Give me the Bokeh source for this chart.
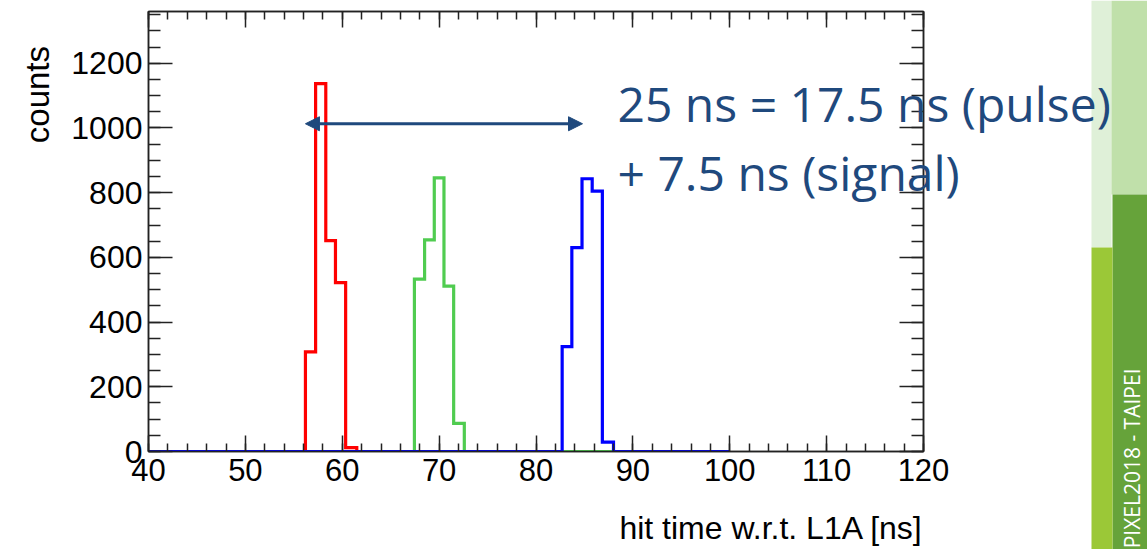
import math
from bokeh.plotting import figure
from bokeh.models import (LinearAxis, SingleIntervalTicker, Arrow,
                          NormalHead, Range1d, GridBox)
from bokeh.core.properties import value
from bokeh.embed import file_html
from bokeh.resources import INLINE

# ---------------- data ----------------
hist_range = (0, 100)          # histogram domain [ns]
x_axis_range = (40, 120)
y_axis_range = (0, 1360)

red_edges = [56.2, 57.25, 58.3, 59.3, 60.35, 61.5]
red_counts = [308, 1137, 652, 522, 12]

green_edges = [67.45, 68.5, 69.5, 70.5, 71.5, 72.6]
green_counts = [533, 654, 846, 511, 87]

blue_edges = [82.7, 83.7, 84.75, 85.8, 86.85, 88.0]
blue_counts = [324, 630, 843, 805, 29]

arrow_x = [56.2, 84.8]
arrow_y = 1013

note_lines = ["25 ns = 17.5 ns (pulse)", "+ 7.5 ns (signal)"]
x_title = "hit time w.r.t. L1A [ns]"
y_title = "counts"
banner = "PIXEL2018 - TAIPEI"

# ---------------- helpers ----------------
def step_path(edges, counts, lo, hi):
    xs = [lo, edges[0]]
    ys = [0, 0]
    for i, c in enumerate(counts):
        xs += [edges[i], edges[i + 1]]
        ys += [c, c]
    xs += [edges[-1], hi]
    ys += [0, 0]
    return xs, ys

W, H = 1147, 549
p = figure(width=W, height=H, output_backend="svg", toolbar_location=None,
           x_range=Range1d(*x_axis_range), y_range=Range1d(*y_axis_range),
           min_border_left=148, min_border_right=224, min_border_top=11,
           min_border_bottom=98, background_fill_color="white",
           border_fill_color="white", outline_line_color="#222222",
           outline_line_width=1.5)
p.grid.visible = False
p.frame_align = False

AX = "#222222"
TICK_FONT = "Liberation Sans"

p.xaxis[0].ticker = SingleIntervalTicker(interval=10, num_minor_ticks=5)
p.yaxis[0].ticker = SingleIntervalTicker(interval=200, num_minor_ticks=4)

def style(ax, major, minor, labels=True, size="31px"):
    ax.axis_line_color = AX
    ax.axis_line_width = 1.5
    ax.major_tick_line_color = AX
    ax.minor_tick_line_color = AX
    ax.major_tick_line_width = 1.5
    ax.minor_tick_line_width = 1.5
    ax.major_tick_in = major
    ax.major_tick_out = 0
    ax.minor_tick_in = minor
    ax.minor_tick_out = 0
    if labels:
        ax.major_label_text_font = TICK_FONT
        ax.major_label_text_font_size = size
        ax.major_label_text_color = "black"
    else:
        ax.major_label_text_font_size = "1px"
        ax.major_label_text_color = None
        ax.major_label_standoff = 0

style(p.xaxis[0], 16, 8)
p.xaxis[0].major_label_standoff = 7
style(p.yaxis[0], 24, 12, size="32px")
p.yaxis[0].major_label_standoff = 6

top = LinearAxis(ticker=SingleIntervalTicker(interval=10, num_minor_ticks=5))
style(top, 16, 8, labels=False)
p.add_layout(top, "above")
right = LinearAxis(ticker=SingleIntervalTicker(interval=200, num_minor_ticks=4))
style(right, 24, 12, labels=False)
p.add_layout(right, "right")

# histograms
for edges, counts, col in [(red_edges, red_counts, "#FF0000"),
                           (green_edges, green_counts, "#50CC50"),
                           (blue_edges, blue_counts, "#0000FF")]:
    xs, ys = step_path(edges, counts, *hist_range)
    p.line(xs, ys, line_color=col, line_width=3.2, line_join="miter")

# arrow
NAVY = "#1F497D"
p.add_layout(Arrow(start=NormalHead(size=14, fill_color=NAVY, line_color=NAVY),
                   end=NormalHead(size=14, fill_color=NAVY, line_color=NAVY),
                   x_start=arrow_x[0], y_start=arrow_y,
                   x_end=arrow_x[1], y_end=arrow_y,
                   line_color=NAVY, line_width=3))

# ---------------- overlay page layer (pixel space, y downward) ----------------
ov = figure(width=W, height=H, output_backend="svg", toolbar_location=None,
            x_range=Range1d(0, W), y_range=Range1d(H, 0),
            x_axis_type=None, y_axis_type=None,
            min_border_left=0, min_border_right=0, min_border_top=0,
            min_border_bottom=0, outline_line_color=None,
            background_fill_color=None, border_fill_color=None)
ov.grid.visible = False
ov.frame_align = False

# slide decoration at right edge
ov.quad(left=[1091, 1111, 1112, 1091], right=[1111, 1147, 1147, 1112],
        top=[0, 0, 194, 247], bottom=[247, 194, 549, 549],
        fill_color=["#DFF0D8", "#C0E0AA", "#66A33A", "#9BC837"],
        line_color=None)

ov.text(x=[1131], y=[368], text=[banner], angle=math.pi / 2,
        text_align="right", text_baseline="middle",
        text_font=value("Open Sans"), text_font_size="21px",
        text_color="white")

# annotation text
ov.text(x=[617, 617], y=[103.3, 171.5], text=note_lines,
        text_align="left", text_baseline="middle",
        text_font=value("Open Sans"), text_font_size="48px",
        text_color=NAVY)

# axis titles
ov.text(x=[923], y=[527.5], text=[x_title], text_align="right",
        text_baseline="middle", text_font=value(TICK_FONT),
        text_font_size="32px", text_color="black")
ov.text(x=[36.5], y=[45.5], text=[y_title], angle=math.pi / 2,
        text_align="right", text_baseline="middle",
        text_font=value(TICK_FONT), text_font_size="33px",
        text_color="black")

layout = GridBox(children=[(p, 0, 0), (ov, 0, 0)])
open("out.html", "w").write(file_html(layout, INLINE))
